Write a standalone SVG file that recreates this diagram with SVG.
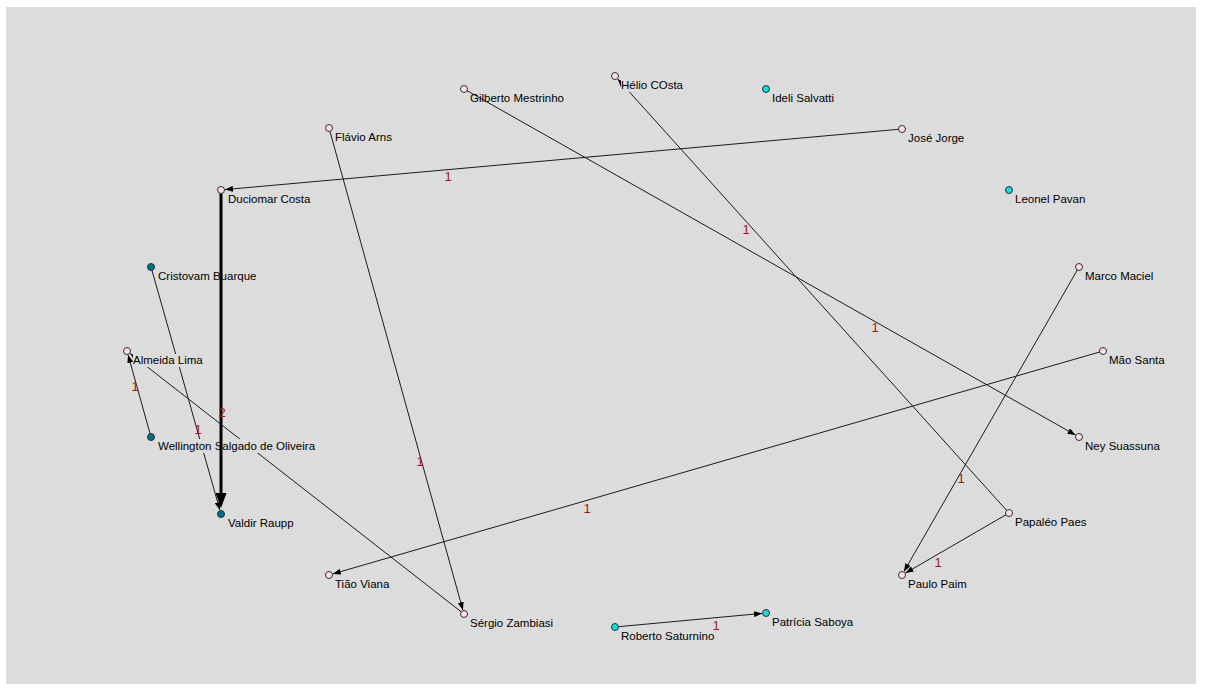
<svg xmlns="http://www.w3.org/2000/svg" width="1211" height="690" viewBox="0 0 1211 690">
<style>
.bg{fill:#dcdcdc}
.e{stroke:#1a1a1a;stroke-width:1;fill:none;marker-end:url(#arr)}
.ew{fill:#a01818;font-family:"Liberation Sans",Arial,sans-serif;font-size:13px;text-anchor:middle}
.n{stroke:#303030;stroke-width:1}
.pk{fill:#ffdcf0}
.tl{fill:#006f8a}
.cy{fill:#14dcdc}
.lb{fill:#000;font-family:"Liberation Sans",Arial,sans-serif;font-size:11.5px}
.lbg{fill:#dcdcdc}
</style>
<defs>
<marker id="arr" viewBox="0 0 8 6" refX="8" refY="3" markerWidth="8" markerHeight="6" markerUnits="userSpaceOnUse" orient="auto"><path d="M0,0 L8,3 L0,6 z" fill="#000"/></marker>
<marker id="arrBig" viewBox="0 0 15 11" refX="1" refY="5.5" markerWidth="15" markerHeight="11" markerUnits="userSpaceOnUse" orient="auto"><path d="M0,0 L15,5.5 L0,11 z" fill="#000"/></marker>
</defs>
<rect class="bg" x="6" y="7" width="1190" height="677"/>
<g id="connectors">
<line class="e" x1="902" y1="129" x2="225" y2="189.6"/>
<text class="ew" x="448" y="181">1</text>
<line x1="221" y1="190" x2="221" y2="494" stroke="#000" stroke-width="3" marker-end="url(#arrBig)"/>
<text class="ew" x="222" y="417">2</text>
<line class="e" x1="151" y1="267" x2="219.9" y2="510.2"/>
<text class="ew" x="198" y="434" font-size="10">1</text>
<line class="e" x1="151" y1="437" x2="128.1" y2="354.9"/>
<text class="ew" x="135" y="391">1</text>
<line class="e" x1="464" y1="614" x2="130.2" y2="353.5"/>
<line class="e" x1="329" y1="128" x2="462.9" y2="610.1"/>
<text class="ew" x="420" y="466">1</text>
<line class="e" x1="464" y1="89" x2="1075.5" y2="435"/>
<text class="ew" x="875" y="332">1</text>
<line class="e" x1="1009" y1="513" x2="617.7" y2="79"/>
<text class="ew" x="746" y="234">1</text>
<line class="e" x1="1079" y1="267" x2="904" y2="571.5"/>
<text class="ew" x="961" y="483">1</text>
<line class="e" x1="1009" y1="513" x2="905.5" y2="573"/>
<text class="ew" x="938" y="567">1</text>
<line class="e" x1="1103" y1="351" x2="332.8" y2="573.9"/>
<text class="ew" x="587" y="513">1</text>
<line class="e" x1="615" y1="627" x2="762" y2="613.4"/>
<text class="ew" x="716" y="630">1</text>
</g>
<g id="n-duciomar"><circle class="n pk" cx="221" cy="190" r="3.5"/><text class="lb" x="228" y="203">Duciomar Costa</text></g>
<g id="n-cristovam"><circle class="n tl" cx="151" cy="267" r="3.5"/><text class="lb" x="158" y="280">Cristovam Buarque</text></g>
<g id="n-almeida"><circle class="n pk" cx="127" cy="351" r="3.5"/><rect class="lbg" x="133" y="354" width="68" height="13"/><text class="lb" x="133" y="364">Almeida Lima</text></g>
<g id="n-wellington"><circle class="n tl" cx="151" cy="437" r="3.5"/><rect class="lbg" x="157" y="439" width="62" height="14"/><rect class="lbg" x="223" y="439" width="96" height="14"/><text class="lb" x="158" y="450">Wellington Salgado de Oliveira</text></g>
<g id="n-valdir"><circle class="n tl" cx="221" cy="514" r="3.5"/><text class="lb" x="228" y="527">Valdir Raupp</text></g>
<g id="n-flavio"><circle class="n pk" cx="329" cy="128" r="3.5"/><text class="lb" x="335" y="141">Flávio Arns</text></g>
<g id="n-gilberto"><circle class="n pk" cx="464" cy="89" r="3.5"/><text class="lb" x="470" y="102">Gilberto Mestrinho</text></g>
<g id="n-helio"><circle class="n pk" cx="615" cy="76" r="3.5"/><rect class="lbg" x="621" y="79" width="63" height="13"/><text class="lb" x="621" y="89">Hélio COsta</text></g>
<g id="n-ideli"><circle class="n cy" cx="766" cy="89" r="3.5"/><text class="lb" x="772" y="102">Ideli Salvatti</text></g>
<g id="n-jose"><circle class="n pk" cx="902" cy="129" r="3.5"/><text class="lb" x="908" y="142">José Jorge</text></g>
<g id="n-leonel"><circle class="n cy" cx="1009" cy="190" r="3.5"/><text class="lb" x="1015" y="203">Leonel Pavan</text></g>
<g id="n-marco"><circle class="n pk" cx="1079" cy="267" r="3.5"/><text class="lb" x="1085" y="280">Marco Maciel</text></g>
<g id="n-mao"><circle class="n pk" cx="1103" cy="351" r="3.5"/><text class="lb" x="1109" y="364">Mão Santa</text></g>
<g id="n-ney"><circle class="n pk" cx="1079" cy="437" r="3.5"/><text class="lb" x="1085" y="450">Ney Suassuna</text></g>
<g id="n-papaleo"><circle class="n pk" cx="1009" cy="513" r="3.5"/><text class="lb" x="1015" y="526">Papaléo Paes</text></g>
<g id="n-paulo"><circle class="n pk" cx="902" cy="575" r="3.5"/><text class="lb" x="908" y="588">Paulo Paim</text></g>
<g id="n-patricia"><circle class="n cy" cx="766" cy="613" r="3.5"/><text class="lb" x="772" y="626">Patrícia Saboya</text></g>
<g id="n-roberto"><circle class="n cy" cx="615" cy="627" r="3.5"/><text class="lb" x="621" y="640">Roberto Saturnino</text></g>
<g id="n-sergio"><circle class="n pk" cx="464" cy="614" r="3.5"/><text class="lb" x="470" y="627">Sérgio Zambiasi</text></g>
<g id="n-tiao"><circle class="n pk" cx="329" cy="575" r="3.5"/><text class="lb" x="335" y="588">Tião Viana</text></g>
</svg>
